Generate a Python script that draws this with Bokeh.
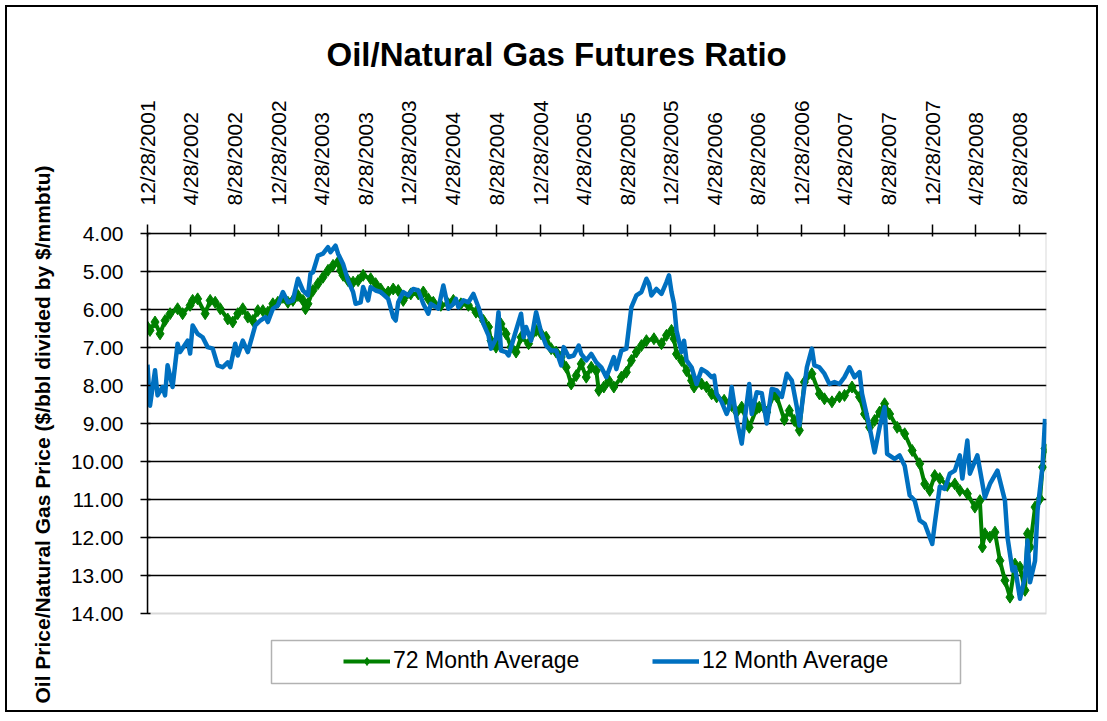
import pandas as pd
from bokeh.plotting import figure
from bokeh.models import (Range1d, FixedTicker, NumeralTickFormatter,
                          Legend, LegendItem, BoxAnnotation, Title)
from bokeh.embed import file_html
from bokeh.resources import INLINE

# ---------------- data ----------------
start_date = "2001-12-28"
end_date = "2008-11-11"

tick_dates = ["12/28/2001", "4/28/2002", "8/28/2002", "12/28/2002", "4/28/2003",
              "8/28/2003", "12/28/2003", "4/28/2004", "8/28/2004", "12/28/2004",
              "4/28/2005", "8/28/2005", "12/28/2005", "4/28/2006", "8/28/2006",
              "12/28/2006", "4/28/2007", "8/28/2007", "12/28/2007", "4/28/2008",
              "8/28/2008"]

y_ticks = [4, 5, 6, 7, 8, 9, 10, 11, 12, 13, 14]

# weeks since start_date
weeks_72m = [0, 1, 3, 5, 7, 9, 12, 14, 17, 18, 20, 23, 25, 27, 29, 32, 34, 36, 38, 40,
             42, 44, 46, 48, 50, 52, 54, 56, 58, 60, 62, 63, 64, 66, 68, 70, 72, 74, 76, 77,
             78, 80, 82, 84, 86, 89, 91, 93, 96, 98, 100, 102, 105, 108, 110, 112, 114, 117, 120, 122,
             125, 128, 131, 134, 136, 137, 139, 141, 143, 145, 147, 149, 152, 155, 157, 159, 161, 163, 165, 167,
             169, 171, 173, 175, 177, 179, 180, 182, 184, 186, 189, 191, 193, 195, 197, 199, 202, 205, 207, 209,
             210, 211, 213, 215, 217, 218, 221, 223, 225, 227, 230, 233, 235, 237, 240, 243, 244, 247, 250, 251,
             254, 256, 258, 260, 262, 265, 268, 270, 273, 276, 278, 281, 284, 286, 288, 290, 292, 294, 296, 299,
             302, 305, 308, 310, 312, 314, 316, 319, 322, 324, 327, 330, 332, 333, 334, 336, 338, 340, 342, 344,
             346, 348, 350, 351, 352, 354, 356, 357, 358]
ratio_72m = [6.46, 6.55, 6.33, 6.64, 6.29, 6.11, 5.98, 6.11, 5.89, 5.76, 5.72, 6.11, 5.76, 5.81, 5.98, 6.25, 6.33, 6.11, 5.98, 6.20,
             6.29, 6.03, 6.03, 6.07, 5.85, 5.81, 5.68, 5.81, 5.76, 5.63, 5.76, 5.98, 5.85, 5.50, 5.32, 5.15, 4.97, 4.84, 4.75, 4.97,
             5.10, 5.24, 5.28, 5.24, 5.10, 5.19, 5.32, 5.46, 5.54, 5.46, 5.50, 5.76, 5.59, 5.59, 5.54, 5.72, 5.81, 5.89, 5.85, 5.76,
             5.85, 5.89, 6.07, 6.29, 6.46, 6.82, 6.99, 6.38, 6.64, 6.99, 7.12, 6.73, 6.90, 6.55, 6.64, 6.73, 7.03, 7.12, 7.25, 7.52,
             7.96, 7.74, 7.43, 7.78, 7.52, 7.61, 8.13, 8.04, 7.87, 8.04, 7.78, 7.65, 7.34, 7.12, 6.95, 6.82, 6.77, 6.90, 6.68, 6.55,
             6.77, 7.17, 7.34, 7.61, 7.87, 8.04, 7.96, 8.04, 8.22, 8.30, 8.39, 8.53, 8.70, 8.57, 9.10, 8.60, 8.57, 8.70, 8.22, 8.30,
             8.90, 8.66, 8.92, 9.18, 7.91, 7.69, 8.22, 8.35, 8.43, 8.30, 8.26, 8.04, 8.30, 8.75, 9.10, 8.92, 8.70, 8.48, 8.75, 9.10,
             9.27, 9.71, 10.06, 10.59, 10.76, 10.37, 10.45, 10.63, 10.59, 10.76, 10.85, 11.20, 11.03, 12.25, 11.90, 11.99, 11.86, 12.61, 13.13, 13.57,
             12.70, 12.78, 13.39, 11.90, 12.25, 11.20, 10.98, 10.15, 9.66]

weeks_12m = [0, 1, 3, 4, 6, 7, 8, 10, 12, 13, 16, 17, 18, 20, 22, 24, 26, 28, 30, 32,
             33, 35, 36, 38, 40, 43, 45, 47, 48, 50, 52, 54, 56, 58, 60, 62, 64, 65, 66, 68,
             70, 72, 73, 75, 76, 78, 80, 82, 83, 85, 86, 88, 89, 91, 93, 96, 98, 99, 100, 102,
             104, 106, 108, 110, 112, 113, 114, 116, 118, 120, 122, 123, 124, 126, 128, 130, 132, 134, 136, 137,
             139, 140, 141, 143, 144, 146, 149, 150, 151, 153, 155, 157, 158, 159, 161, 163, 165, 166, 168, 170,
             172, 173, 175, 177, 179, 181, 183, 184, 186, 187, 189, 191, 193, 195, 197, 199, 200, 201, 203, 205,
             207, 208, 209, 210, 211, 213, 214, 215, 217, 219, 221, 223, 225, 226, 227, 229, 231, 232, 233, 235,
             237, 240, 241, 243, 245, 247, 249, 251, 253, 255, 257, 259, 260, 263, 265, 266, 268, 270, 272, 274,
             276, 278, 280, 282, 284, 285, 288, 290, 292, 294, 295, 298, 300, 302, 304, 306, 308, 310, 313, 314,
             316, 318, 320, 322, 324, 325, 327, 328, 331, 334, 336, 339, 342, 343, 345, 346, 348, 350, 351, 352,
             354, 355, 357, 358]
ratio_12m = [7.45, 8.53, 7.60, 8.26, 8.04, 8.26, 7.47, 8.04, 6.90, 7.12, 6.82, 7.16, 6.42, 6.64, 6.73, 6.99, 7.03, 7.47, 7.52, 7.39,
             7.52, 6.90, 7.21, 6.82, 7.12, 6.42, 6.29, 6.20, 6.33, 5.98, 5.89, 5.54, 5.81, 5.76, 5.19, 5.50, 5.63, 5.06, 5.02, 4.58,
             4.53, 4.36, 4.49, 4.32, 4.53, 4.80, 5.24, 5.54, 5.85, 5.81, 5.41, 5.76, 5.41, 5.50, 5.54, 5.72, 6.20, 6.29, 5.81, 5.54,
             5.63, 5.46, 5.50, 5.85, 6.11, 5.85, 5.89, 5.98, 5.37, 5.98, 5.85, 5.72, 5.94, 5.76, 5.81, 5.59, 5.94, 6.38, 6.68, 7.03,
             6.77, 6.07, 7.08, 7.12, 7.21, 6.77, 6.11, 6.73, 6.46, 6.82, 6.07, 6.60, 6.77, 6.95, 7.08, 7.08, 7.47, 6.99, 7.25, 7.21,
             6.95, 7.17, 7.34, 7.17, 7.39, 7.52, 7.78, 7.61, 7.25, 7.57, 7.08, 7.03, 5.94, 5.63, 5.54, 5.19, 5.32, 5.63, 5.46, 5.59,
             5.28, 5.10, 5.54, 5.85, 6.55, 7.12, 6.82, 7.34, 7.52, 7.96, 7.57, 7.65, 7.78, 7.74, 8.22, 8.43, 8.75, 8.57, 8.04, 8.90,
             9.53, 7.96, 8.75, 8.18, 8.20, 9.00, 8.09, 8.13, 8.30, 7.69, 7.87, 8.57, 9.05, 7.52, 7.03, 7.47, 7.52, 7.69, 7.96, 7.91,
             7.96, 7.78, 7.52, 7.78, 7.65, 8.22, 9.10, 9.76, 9.10, 8.57, 9.80, 9.93, 9.84, 10.11, 10.89, 11.03, 11.55, 11.64, 12.17, 11.64,
             10.66, 10.72, 10.32, 10.24, 9.84, 10.45, 9.45, 10.32, 9.84, 10.95, 10.59, 10.24, 11.03, 11.99, 12.87, 12.78, 13.61, 13.04, 12.08, 13.18,
             12.61, 11.29, 10.11, 8.88]

title_text = "Oil/Natural Gas Futures Ratio"
y_label = "Oil Price/Natural Gas Price ($/bbl divided by $/mmbtu)"
name_72 = "72 Month Average"
name_12 = "12 Month Average"

# ---------------- helpers ----------------
EPOCH = pd.Timestamp("1970-01-01")
start = pd.Timestamp(start_date)


def to_ms(ts):
    return (ts - EPOCH).total_seconds() * 1000.0


x72 = [to_ms(start + pd.Timedelta(weeks=w)) for w in weeks_72m]
x12 = [to_ms(start + pd.Timedelta(weeks=w)) for w in weeks_12m]
tick_ms = [to_ms(pd.to_datetime(d, format="%m/%d/%Y")) for d in tick_dates]
x_end = to_ms(pd.Timestamp(end_date))

FONT = "Liberation Sans"
OFF = 7                      # page offset of the figure content (margin + border)
W, H = 1107 - 2 * OFF, 721 - 2 * OFF
# page-pixel layout of the plot area; the frame is extended down to hold the legend
PL, PR, PT, PB = 147, 1046, 233, 613      # axis box (values 4..14)
FRAME_BOTTOM = 690
px_per_unit = (PB - PT) / (y_ticks[-1] - y_ticks[0])
y_low = y_ticks[-1] + (FRAME_BOTTOM - PB) / px_per_unit

p = figure(width=W, height=H, output_backend="svg", toolbar_location=None,
           x_range=Range1d(tick_ms[0], x_end), y_range=Range1d(y_low, y_ticks[0]),
           x_axis_location="above",
           min_border_left=PL - OFF, min_border_right=W - (PR - OFF),
           min_border_top=PT - OFF, min_border_bottom=H - (FRAME_BOTTOM - OFF))
p.styles = {"margin": "5px", "border": "2px solid black"}
p.background_fill_color = "white"
p.border_fill_color = "white"
p.outline_line_color = None

# title
p.title.text = title_text
p.title.align = "left"
p.title.offset = 326 - PL
p.title.text_font = FONT
p.title.text_font_size = "33px"
p.title.text_font_style = "bold"
p.title.text_color = "black"
p.title.standoff = 49

# x axis (top)
xa = p.xaxis[0]
xa.ticker = FixedTicker(ticks=tick_ms)
xa.major_label_overrides = {t: d for t, d in zip(tick_ms, tick_dates)}
xa.major_label_orientation = "vertical"
xa.major_label_text_font = FONT
xa.major_label_text_font_size = "21px"
xa.major_label_text_color = "black"
xa.major_label_standoff = 19
xa.major_tick_in = 3
xa.major_tick_out = 9
xa.major_tick_line_width = 1.5
xa.major_tick_line_color = "black"
xa.minor_tick_line_color = None
xa.axis_line_color = "black"
xa.axis_line_width = 1.5

# y axis
ya = p.yaxis[0]
ya.bounds = (y_ticks[0], y_ticks[-1])
ya.ticker = FixedTicker(ticks=y_ticks)
ya.formatter = NumeralTickFormatter(format="0.00")
ya.major_label_text_font = FONT
ya.major_label_text_font_size = "21px"
ya.major_label_text_color = "black"
ya.major_label_standoff = 17
ya.major_tick_in = 3
ya.major_tick_out = 7
ya.major_tick_line_width = 1.5
ya.major_tick_line_color = "black"
ya.minor_tick_line_color = None
ya.axis_line_color = "black"
ya.axis_line_width = 1.5

# y-axis title (vertical), starting just below the plot area like the original
p.add_layout(Title(text=y_label, align="left", offset=-13, standoff=28,
                   text_font=FONT, text_font_size="21px", text_font_style="bold",
                   text_color="black"), "left")

p.xgrid.grid_line_color = None
p.ygrid.ticker = FixedTicker(ticks=y_ticks[1:-1])
p.ygrid.grid_line_color = "black"
p.ygrid.grid_line_width = 1.5

# grey right / bottom border of the plot area (4..14)
p.add_layout(BoxAnnotation(left=tick_ms[0], right=x_end, top=y_ticks[0], bottom=y_ticks[-1],
                           fill_alpha=0, line_color="#808080", line_width=2,
                           level="underlay"))

# series
g_line = p.line(x72, ratio_72m, line_color="#008000", line_width=4)
g_mark = p.scatter(x72, ratio_72m, marker="diamond", size=12,
                   fill_color="#008000", line_color="#008000")
b_line = p.line(x12, ratio_12m, line_color="#0070C0", line_width=4.5, line_join="round")

# legend box + items (positions relative to the frame, px)
p.add_layout(BoxAnnotation(left=271 - PL, right=960 - PL,
                           top=FRAME_BOTTOM - 640, bottom=FRAME_BOTTOM - 683,
                           left_units="screen", right_units="screen",
                           top_units="screen", bottom_units="screen",
                           fill_color="white", fill_alpha=1.0,
                           line_color="black", line_width=1.5))
legend = Legend(items=[LegendItem(label=name_72, renderers=[g_line, g_mark]),
                       LegendItem(label=name_12, renderers=[b_line])],
                location=(343 - PL - 9, FRAME_BOTTOM - 683), orientation="horizontal",
                padding=9, margin=0, spacing=11, glyph_width=47, glyph_height=20,
                label_standoff=3, label_width=248, label_height=25,
                label_text_font=FONT, label_text_font_size="23px",
                label_text_color="black",
                border_line_alpha=0, background_fill_alpha=0)
p.add_layout(legend)

open("out.html", "w").write(file_html(p, INLINE))
